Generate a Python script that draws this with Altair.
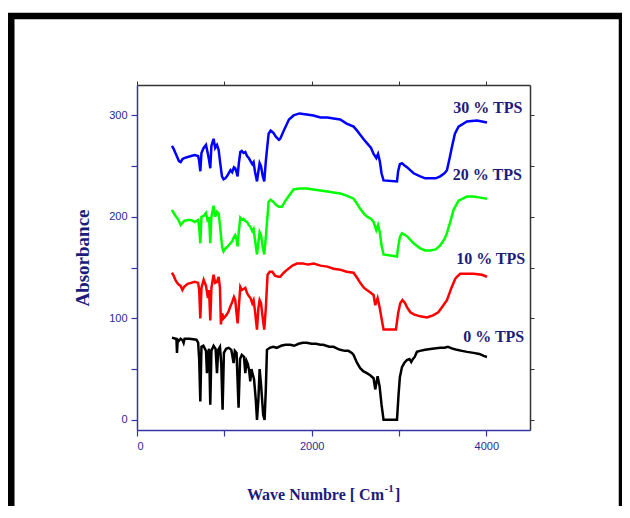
import altair as alt
import pandas as pd

# ---- data ----
series_names = ["0 % TPS", "10 % TPS", "20 % TPS", "30 % TPS"]
series_colors = ["#000000", "#ff0000", "#00ff00", "#0000ff"]

x0 = [400, 440, 452, 458, 466, 480, 500, 525, 534, 545, 600, 680, 700, 712, 725, 738, 760, 790, 801, 812, 826, 839, 852, 877, 900, 916, 930, 950, 965, 980, 995, 1020, 1050, 1080, 1106, 1120, 1140, 1163, 1180, 1200, 1225, 1240, 1255, 1270, 1285, 1297, 1310, 1325, 1340, 1360, 1374, 1390, 1404, 1420, 1445, 1461, 1475, 1488, 1520, 1560, 1600, 1650, 1700, 1755, 1800, 1850, 1900, 1943, 2000, 2050, 2100, 2133, 2200, 2250, 2300, 2327, 2380, 2420, 2460, 2480, 2500, 2520, 2556, 2590, 2632, 2670, 2709, 2728, 2755, 2778, 2800, 2823, 2977, 2995, 3010, 3034, 3060, 3091, 3120, 3140, 3160, 3180, 3205, 3240, 3300, 3380, 3472, 3520, 3560, 3620, 3663, 3720, 3780, 3853, 3920, 3970, 4007]
y0 = [81, 80, 79, 66, 79, 78, 80, 78, 76, 80, 80, 79, 76, 60, 18, 72, 73, 68, 46, 66, 70, 15, 68, 73, 70, 46, 69, 72, 55, 10, 66, 70, 71, 69, 56, 68, 66, 12, 60, 64, 62, 46, 58, 55, 48, 38, 50, 45, 40, 20, 0, 20, 50, 35, 5, 0, 30, 69, 71, 72, 71, 73, 74, 74, 73, 75, 76, 76, 75, 75, 74, 74, 72, 72, 70, 69, 68, 68, 66, 64, 60, 56, 51, 48, 46, 44, 41, 30, 43, 33, 15, 0, 0, 25, 42, 52, 56, 59, 60, 57, 60, 62, 67, 68, 69, 70, 71, 71, 72, 70, 69, 68, 67, 66, 65, 63, 62]

x10 = [400, 420, 440, 460, 480, 500, 520, 540, 580, 620, 660, 700, 712, 725, 738, 763, 790, 812, 825, 839, 852, 877, 895, 916, 935, 950, 961, 975, 990, 1011, 1030, 1049, 1070, 1090, 1110, 1125, 1140, 1152, 1165, 1183, 1200, 1220, 1240, 1260, 1280, 1300, 1320, 1335, 1350, 1374, 1390, 1404, 1420, 1440, 1457, 1475, 1495, 1520, 1550, 1580, 1620, 1640, 1680, 1720, 1780, 1832, 1900, 1960, 2025, 2100, 2180, 2250, 2327, 2400, 2480, 2520, 2556, 2600, 2632, 2680, 2709, 2728, 2755, 2778, 2800, 2823, 2965, 2990, 3014, 3040, 3070, 3091, 3130, 3170, 3243, 3320, 3390, 3450, 3500, 3549, 3600, 3644, 3663, 3700, 3760, 3853, 3950, 4007]
y10 = [145, 142, 138, 135, 133, 132, 128, 131, 134, 135, 136, 135, 128, 100, 130, 138, 132, 120, 128, 98, 130, 143, 135, 136, 141, 130, 94, 105, 100, 102, 104, 107, 112, 116, 121, 118, 105, 95, 110, 131, 128, 129, 130, 125, 122, 120, 115, 118, 108, 89, 110, 118, 115, 100, 89, 110, 143, 146, 146, 142, 141, 141, 145, 148, 152, 154, 154, 153, 154, 152, 151, 149, 148, 146, 145, 140, 135, 130, 128, 125, 123, 113, 120, 111, 100, 89, 89, 105, 115, 118, 115, 111, 106, 104, 102, 101, 103, 106, 112, 118, 130, 139, 141, 144, 144, 144, 143, 141]

x20 = [400, 420, 440, 460, 480, 500, 520, 540, 580, 620, 660, 700, 712, 725, 738, 763, 790, 812, 825, 839, 852, 877, 895, 916, 935, 950, 975, 991, 1011, 1030, 1049, 1070, 1090, 1110, 1125, 1140, 1152, 1165, 1183, 1200, 1220, 1240, 1260, 1280, 1300, 1320, 1335, 1350, 1374, 1390, 1404, 1420, 1440, 1457, 1475, 1507, 1530, 1560, 1590, 1625, 1659, 1700, 1750, 1793, 1860, 1943, 2020, 2100, 2180, 2251, 2327, 2400, 2480, 2520, 2556, 2600, 2640, 2680, 2709, 2740, 2760, 2780, 2800, 2823, 2977, 2990, 3010, 3034, 3091, 3167, 3243, 3300, 3358, 3420, 3472, 3520, 3549, 3590, 3625, 3682, 3778, 3850, 3930, 4007]
y20 = [207, 204, 201, 199, 196, 192, 194, 196, 197, 197, 195, 197, 190, 174, 200, 201, 204, 195, 200, 174, 200, 211, 200, 205, 203, 192, 170, 166, 169, 170, 172, 174, 176, 180, 182, 178, 171, 185, 199, 197, 198, 196, 195, 192, 190, 186, 188, 178, 163, 175, 185, 182, 170, 163, 180, 215, 217, 215, 212, 210, 210, 216, 222, 227, 228, 228, 227, 226, 225, 224, 223, 221, 218, 213, 208, 203, 200, 198, 195, 187, 192, 185, 172, 163, 161, 170, 180, 184, 181, 174, 169, 167, 167, 168, 172, 178, 184, 196, 207, 216, 220, 220, 219, 218]

x30 = [400, 420, 440, 460, 480, 500, 520, 540, 580, 620, 660, 700, 712, 725, 738, 763, 790, 812, 825, 839, 852, 877, 895, 916, 935, 950, 973, 991, 1011, 1030, 1049, 1070, 1090, 1110, 1125, 1140, 1152, 1165, 1183, 1200, 1220, 1240, 1260, 1280, 1300, 1320, 1335, 1350, 1374, 1390, 1404, 1420, 1440, 1457, 1475, 1507, 1530, 1560, 1590, 1625, 1640, 1680, 1740, 1793, 1860, 1943, 2020, 2100, 2180, 2251, 2327, 2400, 2480, 2520, 2556, 2600, 2640, 2680, 2709, 2740, 2760, 2780, 2800, 2823, 2977, 2990, 3010, 3034, 3060, 3091, 3167, 3243, 3300, 3358, 3420, 3472, 3520, 3549, 3580, 3606, 3640, 3682, 3778, 3892, 3950, 4007]
y30 = [270, 267, 263, 259, 255, 254, 257, 258, 259, 260, 261, 260, 255, 245, 263, 268, 271, 262, 256, 248, 270, 277, 268, 271, 266, 255, 240, 237, 238, 240, 243, 246, 244, 249, 248, 244, 240, 252, 264, 265, 263, 264, 260, 258, 255, 252, 254, 245, 235, 245, 253, 250, 240, 235, 255, 282, 285, 283, 279, 276, 277, 285, 296, 300, 302, 301, 300, 298, 298, 297, 296, 292, 289, 285, 281, 276, 272, 268, 262, 258, 262, 255, 243, 236, 235, 245, 252, 253, 251, 249, 243, 240, 238, 238, 238, 240, 243, 246, 258, 269, 282, 289, 294, 295, 294, 293]

label_x = [4434, 4445, 4407, 4412]
label_y = [77, 154, 236, 302]

x_ticks = [0, 1000, 2000, 3000, 4000]
y_ticks = [0, 50, 100, 150, 200, 250, 300]

# ---- build tables ----
rows = []
for name, xs, ys in zip(series_names, [x0, x10, x20, x30], [y0, y10, y20, y30]):
    for i, (a, b) in enumerate(zip(xs, ys)):
        rows.append({"series": name, "wn": a, "abs": b, "order": i})
df = pd.DataFrame(rows)
labels = pd.DataFrame({"series": series_names, "lx": label_x, "ly": label_y})

NAVY = "#1c1c7a"
TICKBLUE = "#2a2a96"
AXBLUE = "#3535a8"
W, H = 393, 345

xscale = alt.Scale(domain=[0, 4500], nice=False, zero=False)
yscale = alt.Scale(domain=[-10, 330], nice=False, zero=False)

color = alt.Color("series:N", scale=alt.Scale(domain=series_names, range=series_colors), legend=None)

lines = alt.Chart(df).mark_line(strokeWidth=2.5, clip=True).encode(
    x=alt.X("wn:Q", scale=xscale, axis=alt.Axis(
        values=x_ticks, labelExpr="datum.value % 2000 == 0 ? datum.label : ''",
        orient="bottom", domainColor=AXBLUE, tickColor=AXBLUE, domainWidth=1.5, tickWidth=1.2,
        tickSize=6, labelColor=TICKBLUE, labelFont="Liberation Sans", labelFontSize=11,
        labelPadding=4, grid=False, title=None, format="d")),
    y=alt.Y("abs:Q", scale=yscale, axis=alt.Axis(
        values=y_ticks, labelExpr="datum.value % 100 == 0 ? datum.label : ''",
        orient="left", domainColor=AXBLUE, tickColor=AXBLUE, domainWidth=1.5, tickWidth=1.2,
        tickSize=6, labelColor=TICKBLUE, labelFont="Liberation Sans", labelFontSize=11,
        labelPadding=4, grid=False, title="Absorbance", titleFont="Liberation Serif",
        titleFontSize=19, titleFontWeight="bold", titleColor=NAVY, titlePadding=16)),
    color=color,
    order="order:Q",
    detail="series:N",
)

mirror = alt.Chart(df).mark_line(opacity=0).encode(
    x=alt.X("wn:Q", scale=xscale, axis=alt.Axis(
        values=x_ticks, labels=False, orient="top", domainColor="#333333", tickColor="#333333",
        domainWidth=1.5, tickSize=4, grid=False, title=None)),
    y=alt.Y("abs:Q", scale=yscale, axis=alt.Axis(
        values=y_ticks, labels=False, orient="right", domainColor="#333333", tickColor="#333333",
        domainWidth=1.5, tickSize=4, grid=False, title=None)),
    detail="series:N",
)

text = alt.Chart(labels).mark_text(
    align="right", baseline="alphabetic", font="Liberation Serif", fontSize=16,
    fontWeight="bold", color=NAVY,
).encode(
    x=alt.X("lx:Q", scale=xscale, axis=None),
    y=alt.Y("ly:Q", scale=yscale, axis=None),
    text="series:N",
)

one = pd.DataFrame({"t": ["Wave Numbre [ Cm"]})
xt_main = alt.Chart(one).mark_text(
    align="right", baseline="alphabetic", font="Liberation Serif", fontSize=16,
    fontWeight="bold", color=NAVY,
).encode(x=alt.value(247), y=alt.value(415), text="t:N")
xt_sup = alt.Chart(pd.DataFrame({"t": ["-1"]})).mark_text(
    align="left", baseline="alphabetic", font="Liberation Serif", fontSize=11,
    fontWeight="bold", color=NAVY,
).encode(x=alt.value(247.5), y=alt.value(407), text="t:N")
xt_br = alt.Chart(pd.DataFrame({"t": ["]"]})).mark_text(
    align="left", baseline="alphabetic", font="Liberation Serif", fontSize=16,
    fontWeight="bold", color=NAVY,
).encode(x=alt.value(258), y=alt.value(415), text="t:N")

frame = alt.Chart(pd.DataFrame({"f": [0]})).mark_rect(
    filled=False, stroke="#000000", strokeWidth=6.5,
).encode(x=alt.value(-125.75), x2=alt.value(485), y=alt.value(-69), y2=alt.value(520))

chart = alt.layer(frame, lines, text, xt_main, xt_sup, xt_br, mirror).resolve_axis(
    x="independent", y="independent"
).properties(
    width=W, height=H,
    autosize=alt.AutoSizeParams(type="none"),
    padding={"left": 129, "top": 77, "right": 92, "bottom": 76},
    background="white",
).configure_view(stroke=None)

chart.save("out.html", embed_options={"renderer": "svg", "actions": False})
